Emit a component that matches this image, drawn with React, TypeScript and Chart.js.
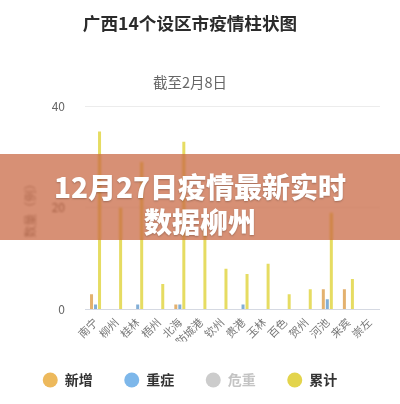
import React, { useEffect, useRef } from "react";
import { Chart, registerables } from "chart.js";

Chart.register(...registerables);

const categories = ["南宁", "柳州", "桂林", "梧州", "北海", "防城港", "钦州", "贵港", "玉林", "百色", "贺州", "河池", "来宾", "崇左"];
const newCases = [3, 0, 0, 0, 1, 0, 0, 0, 0, 0, 0, 4, 4, 0];
const severeCases = [1, 0, 1, 0, 1, 0, 0, 1, 0, 0, 0, 2, 0, 0];
const criticalCases = [0, 0, 0, 0, 0, 0, 0, 0, 0, 0, 0, 0, 0, 0];
const cumulativeCases = [35, 20, 29, 5, 33, 17, 8, 7, 9, 3, 4, 19, 6, 0];
const yTicks = [0, 20, 40];
const seriesNames = ["新增", "重症", "危重", "累计"];
const legendColors = ["#edb95c", "#7db7ea", "#cccccc", "#e3d44c"];
const barColors = ["#e3b16e", "#82aed6", "#cccccc", "#e6dc62"];

const FONT = "'Noto Sans CJK SC', 'Noto Sans', sans-serif";
const LEGEND_H = 62.5;

const legendFix = {
  id: "legendFix",
  beforeLayout(chart: any) {
    const lg = chart.legend;
    if (lg && !lg.__patched) {
      const orig = lg.fit;
      lg.fit = function () {
        orig.call(this);
        this.height = LEGEND_H;
      };
      lg.__patched = true;
    }
  },
};

export default function App() {
  const ref = useRef<HTMLCanvasElement | null>(null);

  useEffect(() => {
    if (!ref.current) return;
    const chart = new Chart(ref.current, {
      type: "bar",
      data: {
        labels: categories,
        datasets: [
          { label: seriesNames[0], data: newCases, backgroundColor: barColors[0] },
          { label: seriesNames[1], data: severeCases, backgroundColor: barColors[1] },
          { label: seriesNames[2], data: criticalCases, backgroundColor: barColors[2], hidden: true },
          { label: seriesNames[3], data: cumulativeCases, backgroundColor: barColors[3] },
        ],
      },
      plugins: [legendFix],
      options: {
        responsive: false,
        animation: false,
        devicePixelRatio: 1,
        layout: { padding: { left: 0, right: 20, top: 0, bottom: 0 } },
        datasets: { bar: { categoryPercentage: 0.57, barPercentage: 0.75 } },
        scales: {
          x: {
            grid: { display: false, drawTicks: false },
            border: { display: false },
            ticks: {
              color: "#777",
              font: { size: 11, family: FONT },
              minRotation: 45,
              maxRotation: 45,
              autoSkip: false,
              padding: 6,
            },
            afterFit: (s: any) => {
              s.height = 32;
            },
          },
          y: {
            min: 0,
            max: 40,
            afterBuildTicks: (s: any) => {
              s.ticks = yTicks.map((v) => ({ value: v }));
            },
            ticks: { color: "#666", font: { size: 12, family: FONT }, padding: 20 },
            grid: {
              drawTicks: false,
              color: (ctx: any) => (ctx.tick && ctx.tick.value === 0 ? "#d5d9e2" : "#ececec"),
            },
            border: { display: false },
            title: {
              display: true,
              text: "数量（例）",
              color: "#888",
              font: { size: 12, family: FONT },
              padding: { top: 23, bottom: 0 },
            },
            afterFit: (s: any) => {
              s.width = 85;
            },
          },
        },
        plugins: {
          tooltip: { enabled: false },
          title: {
            display: true,
            text: "广西14个设区市疫情柱状图",
            color: "#2b2b2b",
            font: { size: 17.6, weight: "bold", family: FONT },
            padding: { top: 13, bottom: 0 },
          },
          subtitle: {
            display: true,
            text: "截至2月8日",
            color: "#666",
            font: { size: 14.5, family: FONT },
            padding: { top: 39.2, bottom: 15.3 },
          },
          legend: {
            position: "bottom",
            onClick: () => {},
            labels: {
              usePointStyle: true,
              pointStyle: "circle",
              pointStyleWidth: 15,
              boxHeight: 10.6,
              padding: 31.5,
              color: "#333",
              font: { size: 14, weight: "bold", family: FONT },
              generateLabels: () =>
                seriesNames.map((name, i) => ({
                  text: name,
                  fillStyle: legendColors[i],
                  strokeStyle: legendColors[i],
                  lineWidth: 0,
                  pointStyle: "circle",
                  hidden: false,
                  fontColor: i === 2 ? "#c4c4c4" : "#333",
                  datasetIndex: i,
                })),
            },
          },
        },
      },
    } as any);
    return () => chart.destroy();
  }, []);

  return (
    <div style={{ position: "fixed", left: 0, top: 0, width: 400, height: 404, background: "#fff", overflow: "hidden" }}>
      <canvas ref={ref} width={400} height={404} style={{ width: 400, height: 404, display: "block" }} />
      <div
        style={{
          position: "absolute",
          left: 0,
          top: 154,
          width: 400,
          height: 86,
          background: "rgba(196, 92, 52, 0.68)",
          backdropFilter: "blur(1.2px)",
          color: "#fff",
          fontFamily: FONT,
          fontWeight: 900,
          fontSize: 28,
          lineHeight: "35px",
          textAlign: "center",
          paddingTop: 15,
          boxSizing: "border-box",
          textShadow: "0 1px 2px rgba(0,0,0,0.25)",
        }}
      >
        <div>12月27日疫情最新实时</div>
        <div>数据柳州</div>
      </div>
    </div>
  );
}
